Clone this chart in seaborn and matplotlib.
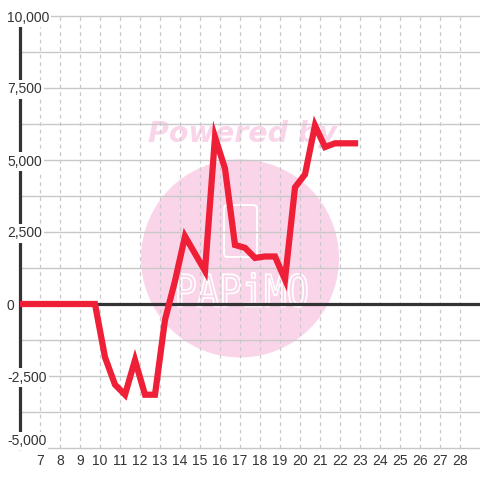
import matplotlib
matplotlib.use("Agg")
import matplotlib.pyplot as plt
import seaborn as sns
import numpy as np
from matplotlib.patches import Circle, FancyBboxPatch, PathPatch
from matplotlib.textpath import TextPath
from matplotlib.font_manager import FontProperties
from matplotlib.transforms import Affine2D

# データ
x_vals = [5.75, 6.25, 6.75, 7.25, 7.75, 8.25, 8.75, 9.25, 9.75,
          10.25, 10.75, 11.25, 11.75, 12.25, 12.75, 13.25, 13.75, 14.25,
          14.75, 15.25, 15.75, 16.25, 16.75, 17.25, 17.75, 18.25, 18.75,
          19.25, 19.75, 20.25, 20.75, 21.25, 21.75, 22.25, 22.75]
y_vals = [0, 0, 0, 0, 0, 0, 0, 0, 0,
          -1850, -2800, -3150, -1950, -3150, -3150, -550, 800, 2350,
          1750, 1150, 5800, 4700, 2050, 1950, 1600, 1650, 1650,
          850, 4050, 4500, 6200, 5450, 5580, 5580, 5580]

x_ticks = [7, 8, 9, 10, 11, 12, 13, 14, 15, 16, 17, 18, 19, 20, 21, 22,
           23, 24, 25, 26, 27, 28]
y_ticks = [10000, 7500, 5000, 2500, 0, -2500, -5000]
y_labels = ["10,000", "7,500", "5,000", "2,500", "0", "-2,500", "-5,000"]

LINE = "#EE1F37"
DARK = "#333333"
GRID = "#C8C8C8"
PINK = "#FAD5EA"

sns.set_theme(style="white")
plt.rcParams["font.family"] = ["Liberation Sans", "DejaVu Sans"]

W = 480.0
fig = plt.figure(figsize=(4.8, 4.8), dpi=100, facecolor="white")
ax = fig.add_axes([20 / W, 32 / W, 460 / W, 432 / W])
ax.set_facecolor("white")

# 透かし (Powered by ロゴ)
ax.add_artist(Circle((240 / W, 1 - 258.5 / W), 99 / W, transform=fig.transFigure,
                     facecolor=PINK, edgecolor="none", zorder=0.3))
ax.text(242 / W, 1 - 134 / W, "Powered by", transform=fig.transFigure,
        ha="center", va="center", fontsize=20.5, fontweight="bold",
        fontstyle="italic", family="DejaVu Sans", color=PINK, zorder=0.3)
ax.add_artist(FancyBboxPatch((224 / W, 1 - 257 / W), 33 / W, 52 / W,
                             boxstyle="round,pad=0,rounding_size=0.008",
                             transform=fig.transFigure, facecolor="none",
                             edgecolor="white", lw=1.4, zorder=0.35))
tp = TextPath((0, 0), "PAPiMO", size=10, prop=FontProperties(family="DejaVu Sans Mono"))
ext = tp.get_extents()
trf = (Affine2D().translate(-ext.x0, -ext.y0)
       .scale(129 / ext.width / W, 34 / ext.height / W)
       .translate(178 / W, 173 / W) + fig.transFigure)
ax.add_artist(PathPatch(tp, transform=trf, facecolor="none", edgecolor="white",
                        lw=1.2, zorder=0.35))

# 折れ線
sns.lineplot(x=x_vals, y=y_vals, ax=ax, color=LINE, lw=4.5, zorder=4,
             solid_joinstyle="miter", solid_capstyle="projecting")

ax.set_xlim(6, 29)
ax.set_ylim(-5000, 10000)

# グリッド
for v in np.arange(-5000, 10001, 1250):
    ax.axhline(v, color=GRID, lw=1.0, zorder=0.8, clip_on=False)
ax.axhline(0, color=DARK, lw=2.3, zorder=3.5)

ax.set_axisbelow(True)
ax.set_xticks(x_ticks)
ax.grid(axis="x", color=GRID, linestyle=(0, (3, 3)), lw=0.9)
ax.grid(axis="y", visible=False)

ax.set_yticks(y_ticks, y_labels)
ax.tick_params(axis="y", length=0, pad=9.4, labelsize=10, labelcolor=DARK)
ax.tick_params(axis="x", length=0, pad=4, labelsize=10, labelcolor=DARK)
for lab in ax.get_yticklabels():
    lab.set_horizontalalignment("left")
    lab.set_bbox(dict(facecolor="white", edgecolor="none", pad=1.5))
    if lab.get_text() == "-5,000":
        lab.set_verticalalignment("bottom")
ax.yaxis.set_zorder(3)

for side in ["top", "right", "bottom"]:
    ax.spines[side].set_visible(False)
ax.spines["left"].set_color(DARK)
ax.spines["left"].set_linewidth(2.3)
ax.spines["left"].set_zorder(2.5)

ax.set_xlabel("")
ax.set_ylabel("")

fig.savefig("out.png", dpi=100, facecolor="white")
